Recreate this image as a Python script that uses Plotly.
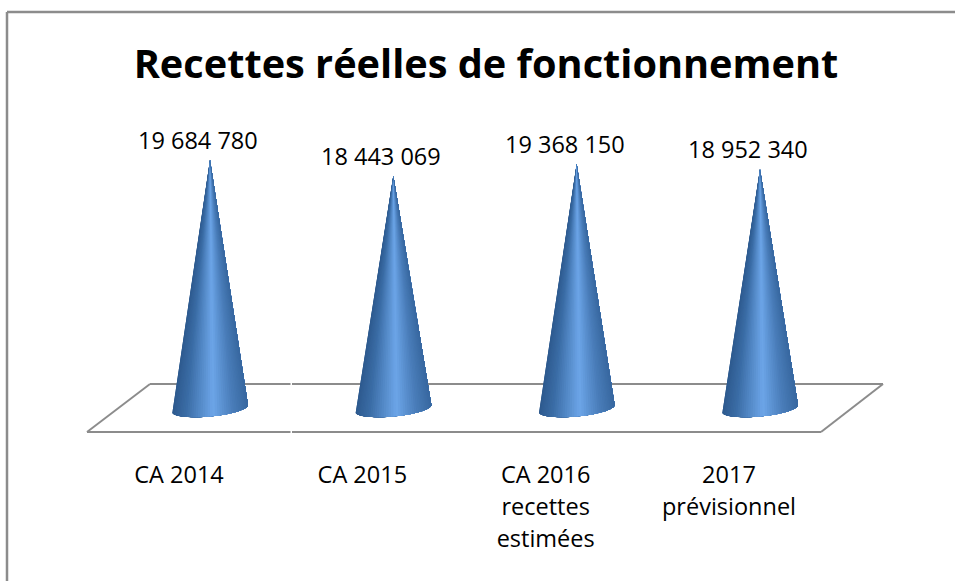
import numpy as np
import plotly.graph_objects as go

# Data
categories = ["CA 2014", "CA 2015", "CA 2016<br>recettes<br>estimées", "2017<br>prévisionnel"]
values = [19684780, 18443069, 19368150, 18952340]

# Canvas / scale
W, H = 955, 581
PLOT_BOTTOM = 455
X0_PX, DX_PX = 210.0, 183.33
Y0_PX, PX_PER_UNIT = 408.5, 12.62e-6
FONT = "Open Sans"
GREY = "#8c8c8c"

x_range = [(0 - X0_PX) / DX_PX, (W - X0_PX) / DX_PX]
y_range = [(Y0_PX - PLOT_BOTTOM) / PX_PER_UNIT, Y0_PX / PX_PER_UNIT]

R = 38 / DX_PX            # base half width in x units
TILT = 3.5 / PX_PER_UNIT  # base tilt in y units
B = 8.0 / PX_PER_UNIT     # base ellipse depth in y units

stops = [(0.0, (46, 90, 142)), (0.18, (58, 108, 165)), (0.54, (108, 165, 232)),
         (0.8, (74, 125, 185)), (1.0, (56, 104, 160))]


def shade(t):
    rgb = [np.interp(t, [s[0] for s in stops], [s[1][k] for s in stops]) for k in range(3)]
    return "rgb(%d,%d,%d)" % tuple(int(round(c)) for c in rgb)


# Each cone is painted left to right as nested fans: every layer covers what remains
# of the cone, so neighbouring colour bands never leave a seam.
N = 48
fig = go.Figure()
theta = np.linspace(np.pi, 0, N + 1)
for j in range(N):
    arc = theta[j:]
    xs, ys = [], []
    for i, v in enumerate(values):
        xs += [i] + list(i + R * np.cos(arc)) + [i, None]
        ys += [v] + list(TILT * np.cos(arc) - B * np.sin(arc)) + [v, None]
    c = shade((np.cos((theta[j] + theta[j + 1]) / 2) + 1) / 2)
    fig.add_trace(go.Scatter(x=xs, y=ys, mode="lines", fill="toself", fillcolor=c,
                             line=dict(color=c, width=0), hoverinfo="skip",
                             showlegend=False))


def px(x):
    return x / W


def py(y):
    return (PLOT_BOTTOM - y) / PLOT_BOTTOM


def seg(x0, y0, x1, y1, width=2):
    return dict(type="line", xref="paper", yref="paper", layer="below",
                x0=px(x0), y0=py(y0), x1=px(x1), y1=py(y1),
                line=dict(color=GREY, width=width))


shapes = [
    seg(7, 12, W, 12, 2.5), seg(7, 12, 7, H, 2.5),
    seg(150, 384, 290.5, 384), seg(292, 384, 883, 384),
    seg(87, 432, 290.5, 432), seg(292, 432, 821, 432),
    seg(87, 432, 150, 384), seg(821, 432, 883, 384),
]

annotations = [
    dict(x=i, y=v, xref="x", yref="y", text=f"{v:,}".replace(",", " "), showarrow=False,
         xshift=-12, yshift=2, yanchor="bottom", xanchor="center",
         font=dict(family=FONT, size=23.5, color="#000000"))
    for i, v in enumerate(values)
]

fig.update_layout(
    width=W, height=H, margin=dict(l=0, r=0, t=0, b=H - PLOT_BOTTOM),
    paper_bgcolor="#ffffff", plot_bgcolor="#ffffff", showlegend=False,
    title=dict(text="Recettes réelles de fonctionnement", x=486 / W, xanchor="center",
               y=1 - 64 / H, yanchor="middle",
               font=dict(family=FONT, size=39.7, color="#000000", weight=700)),
    shapes=shapes, annotations=annotations,
    xaxis=dict(range=x_range, showgrid=False, zeroline=False, showline=False, ticks="",
               tickmode="array", tickvals=[i - 31 / DX_PX for i in range(len(categories))],
               ticktext=['<span style="font-size:23.5px">%s</span>' % c.replace("<br>", '</span><br><span style="font-size:23.5px">') for c in categories],
               tickfont=dict(family=FONT, size=24.6, color="#000000"), ticklabelstandoff=2),
    yaxis=dict(range=y_range, visible=False),
)

fig.write_html("out.html", config=dict(displayModeBar=False),
               post_script="document.body.style.margin='0';document.body.style.overflow='hidden';")
